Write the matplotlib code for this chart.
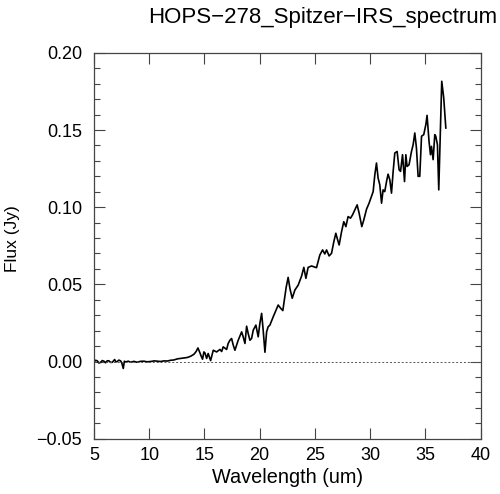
import matplotlib
matplotlib.use("Agg")
import matplotlib.pyplot as plt
from matplotlib.ticker import MultipleLocator

plt.rcParams['font.family'] = ['Liberation Sans', 'DejaVu Sans']

title = "HOPS\u2212278_Spitzer\u2212IRS_spectrum"

# values
wavelength = [5.00, 5.15, 5.30, 5.45, 5.60, 5.75, 5.90, 6.05, 6.20, 6.36, 6.50, 6.66,
              6.87, 6.97, 7.11, 7.25, 7.41, 7.52, 7.65, 7.75, 7.87, 8.10, 8.32, 8.60,
              8.92, 9.20, 9.52, 9.80, 10.13, 10.45, 10.73, 11.03, 11.33, 11.64, 11.94,
              12.24, 12.54, 12.84, 13.14, 13.45, 13.75, 14.05, 14.25, 14.41, 14.60,
              14.71, 14.83, 14.95, 15.05, 15.20, 15.34, 15.56, 15.80, 16.10, 16.40,
              16.56, 16.70, 17.01, 17.15, 17.31, 17.46, 17.61, 17.76, 18.06, 18.37,
              18.51, 18.67, 18.82, 18.96, 19.12, 19.27, 19.42, 19.66, 19.87, 20.02,
              20.18, 20.32, 20.48, 20.63, 20.77, 20.93, 21.23, 21.47, 21.68, 21.90,
              22.10, 22.40, 22.58, 22.75, 22.95, 23.19, 23.49, 23.80, 24.00, 24.19,
              24.39, 24.70, 25.15, 25.45, 25.70, 25.90, 26.06, 26.29, 26.51, 26.72,
              26.90, 27.02, 27.20, 27.42, 27.62, 27.81, 28.01, 28.23, 28.41, 28.62,
              28.83, 29.01, 29.25, 29.43, 29.68, 29.91, 30.07, 30.28, 30.43, 30.58,
              30.73, 30.88, 31.04, 31.18, 31.33, 31.49, 31.63, 31.79, 31.94, 32.09,
              32.24, 32.45, 32.63, 32.76, 32.94, 33.12, 33.24, 33.35, 33.53, 33.75,
              33.90, 34.05, 34.20, 34.35, 34.50, 34.66, 34.86, 35.05, 35.16, 35.34,
              35.47, 35.56, 35.71, 35.86, 35.95, 36.10, 36.22, 36.38, 36.49, 36.67,
              36.86]
flux = [-0.0003, 0.0008, 0.0004, -0.0010, -0.0005, 0.0006, 0.0002, -0.0008, 0.0005,
        0.0004, -0.0006, -0.0005, 0.0013, -0.0002, 0.0000, 0.0009, 0.0004, -0.0010,
        -0.0045, 0.0002, -0.0003, 0.0002, -0.0005, 0.0001, -0.0005, 0.0001, 0.0002,
        -0.0002, 0.0000, 0.0004, 0.0002, 0.0000, 0.0004, 0.0003, 0.0008, 0.0010,
        0.0017, 0.0020, 0.0023, 0.0026, 0.0034, 0.0047, 0.0065, 0.0088, 0.0055,
        0.0034, 0.0015, 0.0062, 0.0055, 0.0020, 0.0052, 0.0006, 0.0073, 0.0062,
        0.0078, 0.0065, 0.0095, 0.0078, 0.0117, 0.0138, 0.0149, 0.0106, 0.0073,
        0.0138, 0.0192, 0.0160, 0.0117, 0.0229, 0.0182, 0.0138, 0.0149, 0.0203,
        0.0236, 0.0160, 0.0247, 0.0312, 0.0203, 0.0060, 0.0192, 0.0225, 0.0236,
        0.0290, 0.0330, 0.0366, 0.0345, 0.0330, 0.0480, 0.0545, 0.0470, 0.0410,
        0.0463, 0.0495, 0.0554, 0.0610, 0.0539, 0.0610, 0.0619, 0.0608, 0.0690,
        0.0723, 0.0697, 0.0723, 0.0684, 0.0701, 0.0777, 0.0831, 0.0799, 0.0755,
        0.0842, 0.0906, 0.0874, 0.0939, 0.0929, 0.0950, 0.0982, 0.1015, 0.0961,
        0.0874, 0.0917, 0.0987, 0.1026, 0.1058, 0.1101, 0.1210, 0.1286, 0.1188,
        0.1145, 0.1026, 0.1112, 0.1101, 0.1166, 0.1214, 0.1177, 0.1091, 0.1232,
        0.1351, 0.1361, 0.1242, 0.1232, 0.1340, 0.1166, 0.1340, 0.1264, 0.1275,
        0.1361, 0.1405, 0.1481, 0.1383, 0.1200, 0.1200, 0.1460, 0.1470, 0.1535,
        0.1595, 0.1426, 0.1340, 0.1394, 0.1308, 0.1470, 0.1460, 0.1405, 0.1112,
        0.1535, 0.1816, 0.1708, 0.1513]

fig = plt.figure(figsize=(5.0, 4.94), dpi=100)
ax = fig.add_axes([0.188, 0.112, 0.773, 0.781])

ax.plot(wavelength, flux, color="black", lw=1.2)
ax.axhline(0, color="#555555", lw=0.7, ls=(0, (2, 2)))

ax.set_xlim(5, 40)
ax.set_ylim(-0.05, 0.20)
ax.xaxis.set_major_locator(MultipleLocator(5))
ax.yaxis.set_major_locator(MultipleLocator(0.05))
ax.yaxis.set_minor_locator(MultipleLocator(0.01))
ax.yaxis.set_major_formatter(plt.FuncFormatter(lambda v, p: f"{v:.2f}".replace("-", "\u2212")))

ax.tick_params(which="both", direction="in", top=True, right=True, labelsize=13,
               color="#444444")
ax.tick_params(axis="x", pad=6)
ax.tick_params(axis="y", pad=8.5)
ax.tick_params(which="major", length=8, width=0.8)
ax.tick_params(which="minor", length=4, width=0.8)
for s in ax.spines.values():
    s.set_color("#444444")
    s.set_linewidth(0.9)

fig.text(0.575, 0.033, "Wavelength (um)", ha="center", va="center", fontsize=14.3)
fig.text(0.025, 0.516, "Flux (Jy)", ha="center", va="center", rotation=90, fontsize=12.5)
fig.text(0.995, 0.985, title, ha="right", va="top", fontsize=16)

fig.savefig("out.png", dpi=100)
